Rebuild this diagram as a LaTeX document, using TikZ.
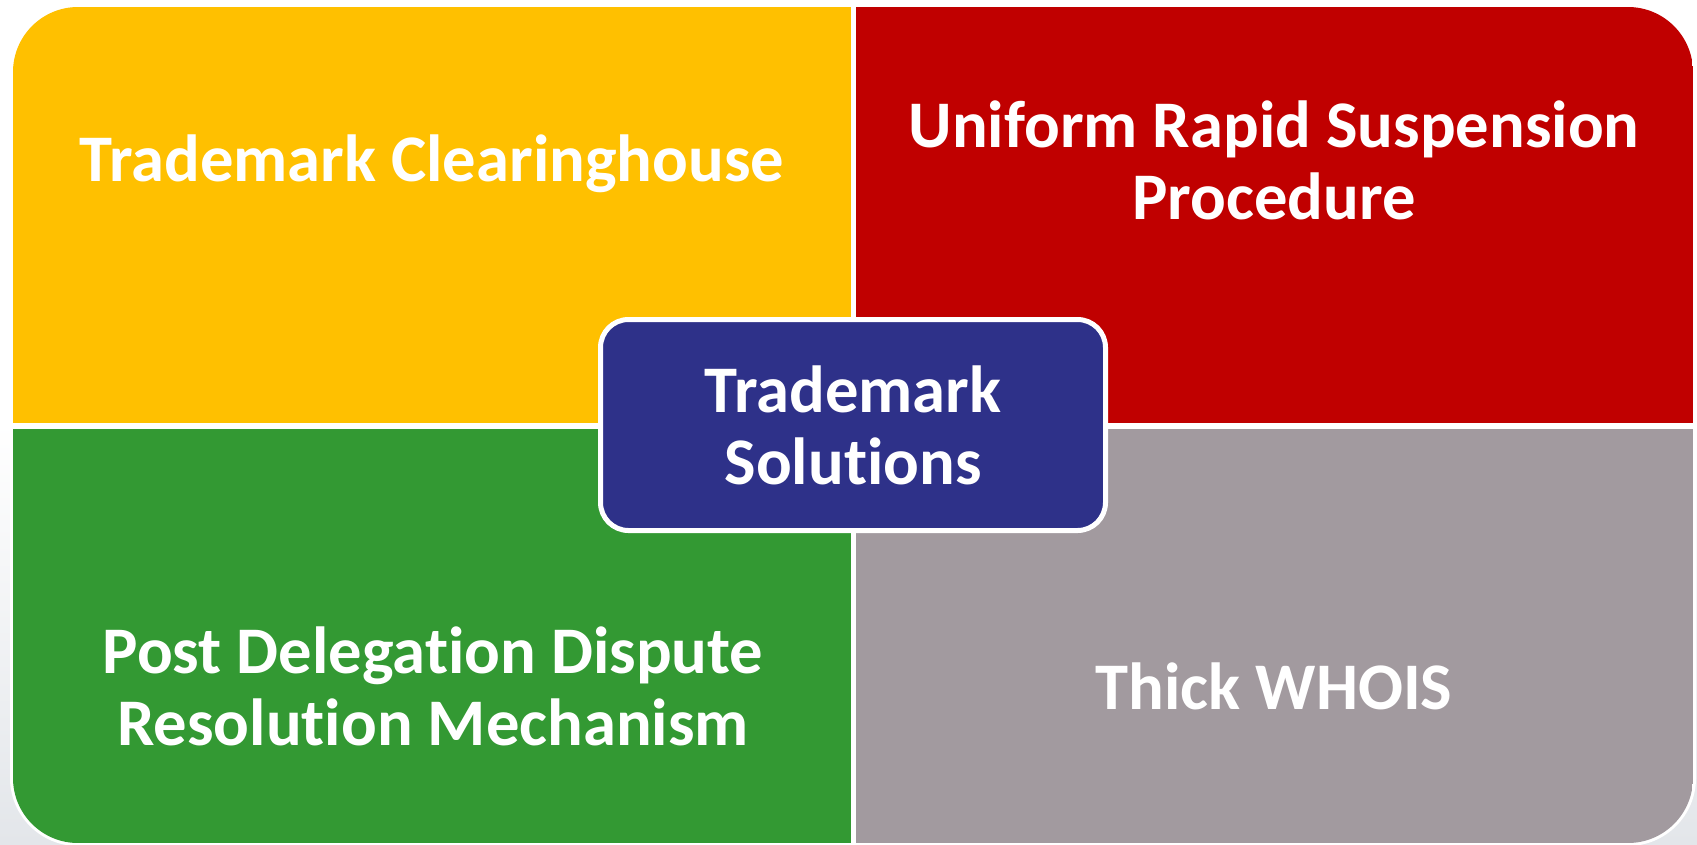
\documentclass[tikz,border=0pt]{standalone}
\usepackage{fontspec}
\setmainfont{Carlito}[Ligatures={NoCommon,NoContextual,NoRare}]
\definecolor{tmyellow}{HTML}{FFC000}
\definecolor{tmred}{HTML}{C00000}
\definecolor{tmgreen}{HTML}{339933}
\definecolor{tmgray}{HTML}{A29A9F}
\definecolor{tmblue}{HTML}{2E3189}
\definecolor{bgbottom}{HTML}{E3E6EA}
\begin{document}
\begin{tikzpicture}[x=1pt,y=-1pt,
  cell/.style={rectangle,inner sep=0pt,outer sep=0pt,draw=none},
  label/.style={text=white,font=\fontsize{66.6}{72}\selectfont\bfseries,align=center,anchor=base,inner sep=0pt},
  hub/.style={rectangle,rounded corners=28pt,fill=tmblue,draw=white,line width=5pt,
    minimum width=505pt,minimum height=211pt,inner sep=0pt,text=white,
    font=\fontsize{66.6}{72}\selectfont\bfseries,align=center}]
\useasboundingbox (0,0) rectangle (1697,844);
\shade[top color=white,bottom color=bgbottom,middle color=white] (0,0) rectangle (1697,844);
\draw[white,fill=white,line width=6pt,rounded corners=65pt] (13,7) rectangle (1693,843);
\begin{scope}
  \clip[rounded corners=65pt] (13,7) rectangle (1693,843);
  \node[cell,fill=tmyellow,minimum width=838pt,minimum height=416pt] (tl) at (432,215) {};
  \node[cell,fill=tmred,minimum width=837pt,minimum height=416pt] (tr) at (1274.5,215) {};
  \node[cell,fill=tmgreen,minimum width=838pt,minimum height=414pt] (bl) at (432,636) {};
  \node[cell,fill=tmgray,minimum width=837pt,minimum height=414pt] (br) at (1274.5,636) {};
\end{scope}
\node[label] (tch) at (432,181) {Trademark Clearinghouse};
\node[label] (urs) at (1274,219) {Uniform Rapid Suspension\\Procedure};
\node[label] (pdd) at (433,745) {Post Delegation Dispute\\Resolution Mechanism};
\node[label] (tw) at (1274,709) {Thick WHOIS};
\node[hub] (hub) at (853,425) {Trademark\\Solutions};
\end{tikzpicture}
\end{document}
